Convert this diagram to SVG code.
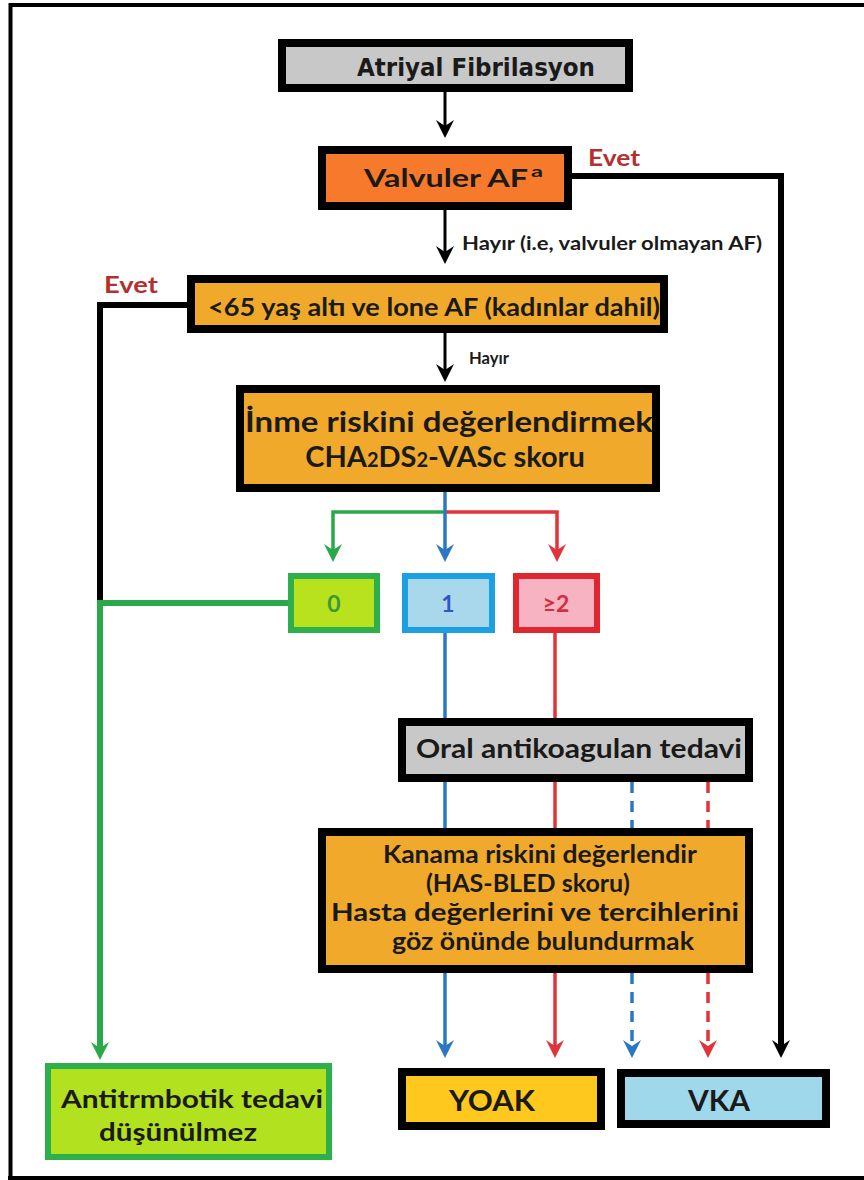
<svg xmlns="http://www.w3.org/2000/svg" width="864" height="1180" viewBox="0 0 864 1180">
<style>
.t{font-family:Lato,"Open Sans","Liberation Sans",sans-serif;font-weight:bold;fill:#1a1a1a;text-anchor:middle}
.ts{font-family:Lato,"Open Sans","Liberation Sans",sans-serif;font-weight:bold;fill:#1a1a1a}
.red{fill:#b3302f}
.bx{stroke:#000;stroke-width:8}
.gray{fill:#c8c8c8}
.amb{fill:#f1a92b}
.k{fill:none;stroke:#000}
.bl{fill:none;stroke:#2a78c0;stroke-width:3.5}
.rd{fill:none;stroke:#e2333a;stroke-width:3.5}
.gr{fill:none;stroke:#2aa84a;stroke-width:6}
.dash{stroke-dasharray:11 8}
</style>
<defs>
<marker id="aK" markerUnits="userSpaceOnUse" viewBox="0 0 18 18" markerWidth="18" markerHeight="18" refX="6" refY="9" orient="auto"><path d="M0,0 L18,9 L0,18 L6,9 z" fill="#000"/></marker>
<marker id="aB" markerUnits="userSpaceOnUse" viewBox="0 0 18 18" markerWidth="18" markerHeight="18" refX="6" refY="9" orient="auto"><path d="M0,0 L18,9 L0,18 L6,9 z" fill="#2a78c0"/></marker>
<marker id="aR" markerUnits="userSpaceOnUse" viewBox="0 0 18 18" markerWidth="18" markerHeight="18" refX="6" refY="9" orient="auto"><path d="M0,0 L18,9 L0,18 L6,9 z" fill="#e2333a"/></marker>
<marker id="aG" markerUnits="userSpaceOnUse" viewBox="0 0 18 18" markerWidth="18" markerHeight="18" refX="6" refY="9" orient="auto"><path d="M0,0 L18,9 L0,18 L6,9 z" fill="#2aa84a"/></marker>
</defs>
<rect width="864" height="1180" fill="#fff"/>
<path d="M10.5,1180 V5 H864 M8,1178 H864" fill="none" stroke="#000" stroke-width="4"/>

<g id="connectors">
<line class="k" x1="445" y1="92" x2="445" y2="126" stroke-width="3" marker-end="url(#aK)"/>
<line class="k" x1="445" y1="210" x2="445" y2="252" stroke-width="3" marker-end="url(#aK)"/>
<line class="k" x1="445" y1="333" x2="445" y2="370" stroke-width="3" marker-end="url(#aK)"/>
<polyline class="k" points="572,176 781,176 781,1046" stroke-width="6" marker-end="url(#aK)"/>
<polyline class="k" points="187,305 100,305 100,606" stroke-width="6"/>
<polyline class="gr" points="288,603 100,603 100,1048" marker-end="url(#aG)"/>
<polyline class="gr" style="stroke-width:3.5" points="445,512 333,512 333,550" marker-end="url(#aG)"/>
<polyline class="rd" points="445,512 557,512 557,550" marker-end="url(#aR)"/>
<line class="bl" x1="445" y1="492" x2="445" y2="550" marker-end="url(#aB)"/>
<line class="bl" x1="445" y1="633" x2="445" y2="718"/>
<line class="rd" x1="555" y1="633" x2="555" y2="718"/>
<line class="bl" x1="445" y1="782" x2="445" y2="828"/>
<line class="rd" x1="555" y1="782" x2="555" y2="828"/>
<line class="bl dash" x1="632" y1="782" x2="632" y2="828"/>
<line class="rd dash" x1="708" y1="782" x2="708" y2="828"/>
<line class="bl" x1="445" y1="973" x2="445" y2="1046" marker-end="url(#aB)"/>
<line class="rd" x1="555" y1="973" x2="555" y2="1046" marker-end="url(#aR)"/>
<line class="bl dash" x1="632" y1="973" x2="632" y2="1046" marker-end="url(#aB)"/>
<line class="rd dash" x1="708" y1="973" x2="708" y2="1046" marker-end="url(#aR)"/>
<text class="ts red" x="588" y="166" font-size="23" textLength="52" lengthAdjust="spacingAndGlyphs">Evet</text>
<text class="ts red" x="104" y="293" font-size="23" textLength="54" lengthAdjust="spacingAndGlyphs">Evet</text>
<text class="ts" x="462" y="250" font-size="18" textLength="300" lengthAdjust="spacingAndGlyphs">Hayır (i.e, valvuler olmayan AF)</text>
<text class="ts" x="469" y="364" font-size="17" textLength="40" lengthAdjust="spacingAndGlyphs">Hayır</text>
</g>

<g id="n-af">
<rect class="bx gray" x="282" y="43" width="347" height="45"/>
<text x="476" y="76" font-family="'DejaVu Sans',Verdana,sans-serif" font-weight="bold" font-size="24" text-anchor="middle" fill="#1a1a1a" textLength="238" lengthAdjust="spacingAndGlyphs">Atriyal Fibrilasyon</text>
</g>
<g id="n-valv">
<rect class="bx" x="322" y="150" width="246" height="56" fill="#f7792b"/>
<text class="ts" x="364" y="187" font-size="25" textLength="164" lengthAdjust="spacingAndGlyphs">Valvuler AF</text>
<text class="ts" x="531" y="177" font-size="16" textLength="12" lengthAdjust="spacingAndGlyphs">a</text>
</g>
<g id="n-lone">
<rect class="bx amb" x="191" y="279" width="473" height="50"/>
<text class="t" x="434" y="316" font-size="24" textLength="452" lengthAdjust="spacingAndGlyphs">&lt;65 yaş altı ve lone AF (kadınlar dahil)</text>
</g>
<g id="n-inme">
<rect class="bx amb" x="240" y="389" width="416" height="99"/>
<text class="t" x="449" y="432" font-size="29" textLength="408" lengthAdjust="spacingAndGlyphs">İnme riskini değerlendirmek</text>
<text class="t" x="445" y="467" font-size="29">CHA<tspan font-size="20">2</tspan>DS<tspan font-size="20">2</tspan>-VASc skoru</text>
</g>
<g id="n-0">
<rect x="291" y="576" width="86" height="54" fill="#b8e21d" stroke="#2db04b" stroke-width="6"/>
<text class="t" x="334" y="612" font-size="23" style="fill:#3a9a3a">0</text>
</g>
<g id="n-1">
<rect x="405" y="576" width="87" height="54" fill="#a9d8ec" stroke="#1ba1e2" stroke-width="6"/>
<text class="t" x="448" y="612" font-size="23" style="fill:#3355cc">1</text>
</g>
<g id="n-2">
<rect x="516" y="576" width="81" height="54" fill="#f7b3c2" stroke="#e0262f" stroke-width="6"/>
<text class="t" x="556" y="612" font-size="23" style="fill:#d03040">≥2</text>
</g>
<g id="n-oral">
<rect class="bx gray" x="402" y="722" width="347" height="56"/>
<text class="t" x="579" y="758" font-size="26" textLength="326" lengthAdjust="spacingAndGlyphs">Oral antikoagulan tedavi</text>
</g>
<g id="n-kanama">
<rect class="bx amb" x="322" y="832" width="427" height="137"/>
<text class="t" x="540" y="863" font-size="24" textLength="314" lengthAdjust="spacingAndGlyphs">Kanama riskini değerlendir</text>
<text class="t" x="528" y="892" font-size="24" textLength="204" lengthAdjust="spacingAndGlyphs">(HAS-BLED skoru)</text>
<text class="t" x="535" y="921" font-size="24" textLength="408" lengthAdjust="spacingAndGlyphs">Hasta değerlerini ve tercihlerini</text>
<text class="t" x="543" y="950" font-size="24" textLength="302" lengthAdjust="spacingAndGlyphs">göz önünde bulundurmak</text>
</g>
<g id="n-anti">
<rect x="48" y="1066" width="281" height="91" fill="#b2e11f" stroke="#2db04b" stroke-width="6"/>
<text class="t" x="192" y="1108" font-size="24" textLength="262" lengthAdjust="spacingAndGlyphs">Antitrmbotik tedavi</text>
<text class="t" x="178" y="1141" font-size="24" textLength="158" lengthAdjust="spacingAndGlyphs">düşünülmez</text>
</g>
<g id="n-yoak">
<rect class="bx" x="402" y="1072" width="199" height="54" fill="#ffc81e"/>
<text class="t" x="492" y="1111" font-size="29" textLength="86" lengthAdjust="spacingAndGlyphs">YOAK</text>
</g>
<g id="n-vka">
<rect class="bx" x="621" y="1073" width="205" height="51" fill="#9fd8ea"/>
<text class="t" x="719" y="1111" font-size="29" textLength="62" lengthAdjust="spacingAndGlyphs">VKA</text>
</g>
</svg>
